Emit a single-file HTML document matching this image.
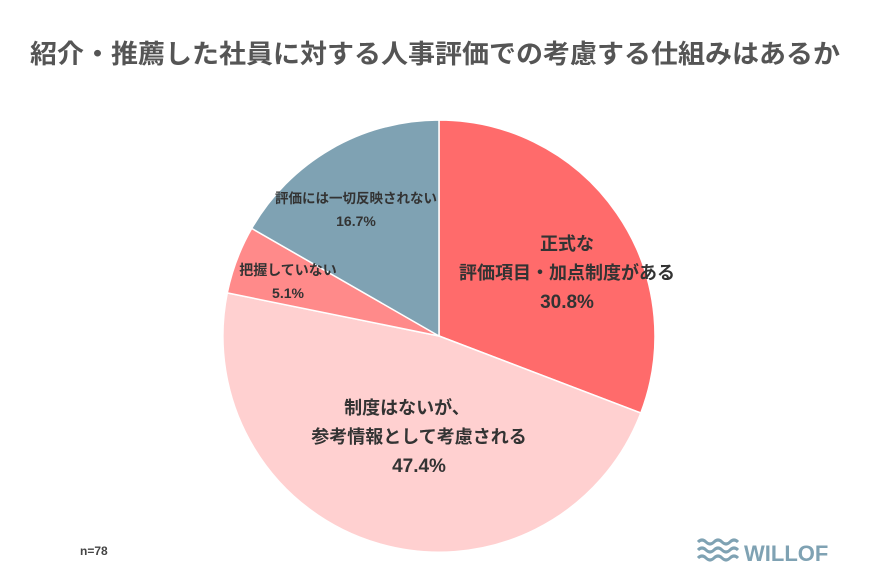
<!DOCTYPE html>
<html><head><meta charset="utf-8"><style>
body{margin:0;background:#fff;}
svg text{font-family:"Liberation Sans","Noto Sans CJK JP",sans-serif;font-weight:bold;fill:#333;}
</style></head><body>
<svg width="869" height="575" viewBox="0 0 869 575" xmlns="http://www.w3.org/2000/svg">
<rect width="869" height="575" fill="#fff"/>
<text x="30" y="63" font-size="26" textLength="810" lengthAdjust="spacingAndGlyphs" style="fill:#555">紹介・推薦した社員に対する人事評価での考慮する仕組みはあるか</text>
<g stroke="#fff" stroke-width="1.5">
<path d="M439,336 L439,120 A216,216 0 0 1 640.8,413 Z" fill="#FF6B6B"/>
<path d="M439,336 L640.8,413 A216,216 0 0 1 227.3,292.9 Z" fill="#FFD0D0"/>
<path d="M439,336 L227.3,292.9 A216,216 0 0 1 251.7,228.4 Z" fill="#FF8A8A"/>
<path d="M439,336 L251.7,228.4 A216,216 0 0 1 439,120 Z" fill="#7FA2B3"/>
</g>
<g text-anchor="middle">
<text x="567" y="250" font-size="18">正式な</text>
<text x="567" y="279" font-size="18">評価項目・加点制度がある</text>
<text x="567" y="308" font-size="19">30.8%</text>
<text x="407" y="414" font-size="18">制度はないが、</text>
<text x="419" y="443" font-size="18">参考情報として考慮される</text>
<text x="419" y="472" font-size="19">47.4%</text>
<text x="288" y="275" font-size="14">把握していない</text>
<text x="288" y="298" font-size="14">5.1%</text>
<text x="356" y="203" font-size="13.5">評価には一切反映されない</text>
<text x="356" y="226" font-size="14">16.7%</text>
</g>
<text x="80" y="555" font-size="12" style="fill:#444">n=78</text>
<g fill="none" stroke="#7FA2B3" stroke-width="3">
<path d="M698,542 q4,-4 8,0 t8,0 t8,0 t8,0 t8,0"/>
<path d="M698,550 q4,-4 8,0 t8,0 t8,0 t8,0 t8,0"/>
<path d="M698,558 q4,-4 8,0 t8,0 t8,0 t8,0 t8,0"/>
</g>
<text x="744" y="561" font-size="22" style="fill:#7FA2B3">WILLOF</text>
</svg>
</body></html>
